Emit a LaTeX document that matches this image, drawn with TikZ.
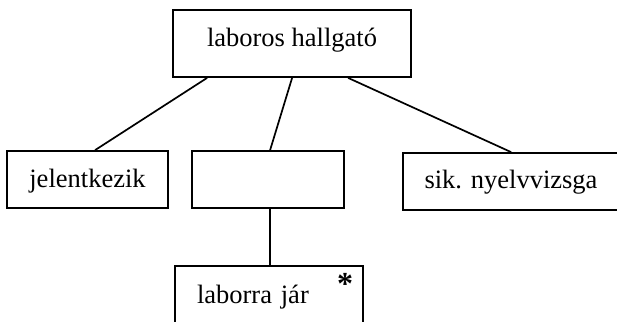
\documentclass[tikz,border=0pt]{standalone}
\usepackage{fontspec}
\setmainfont{Liberation Serif}
\usetikzlibrary{calc}
\begin{document}
\begin{tikzpicture}[x=1pt,y=-1pt,line width=1.8pt,
  box/.style={draw, rectangle, inner sep=0pt, font=\fontsize{26.5}{30}\selectfont},
  link/.style={draw, line width=1.7pt}]
\useasboundingbox (0,0) rectangle (617,321);
\node[box, minimum width=238pt, minimum height=67pt, text height=18pt, text depth=11pt] (top) at (292,43.5) {laboros hallgató};
\node[box, minimum width=161pt, minimum height=57pt, text height=18pt, text depth=3pt] (jel) at (87.5,179.5) {jelentkezik};
\node[box, minimum width=152pt, minimum height=57pt] (mid) at (268,179.5) {};
\node[box, minimum width=216pt, minimum height=57pt, text height=18pt, text depth=5pt] (sik) at (511,181.5) {sik. nyelvvizsga};
\node[box, minimum height=74pt, text height=10pt, text depth=10pt, text width=144pt, align=left, inner xsep=22pt] (lab) at (269,303) {laborra jár};
\node[font=\fontsize{32}{34}\selectfont\bfseries, inner sep=0pt, anchor=base] (star) at (345,294) {*};
\draw[link] ($(top.south west)+(35,0)$) -- ($(jel.north west)+(89,0)$);
\draw[link] ($(top.south west)+(120,0)$) -- ($(mid.north west)+(79,0)$);
\draw[link] ($(top.south west)+(176,0)$) -- ($(sik.north west)+(109,0)$);
\draw[link] ($(mid.south west)+(79,0)$) -- ($(lab.north west)+(96,0)$);
\end{tikzpicture}
\end{document}
